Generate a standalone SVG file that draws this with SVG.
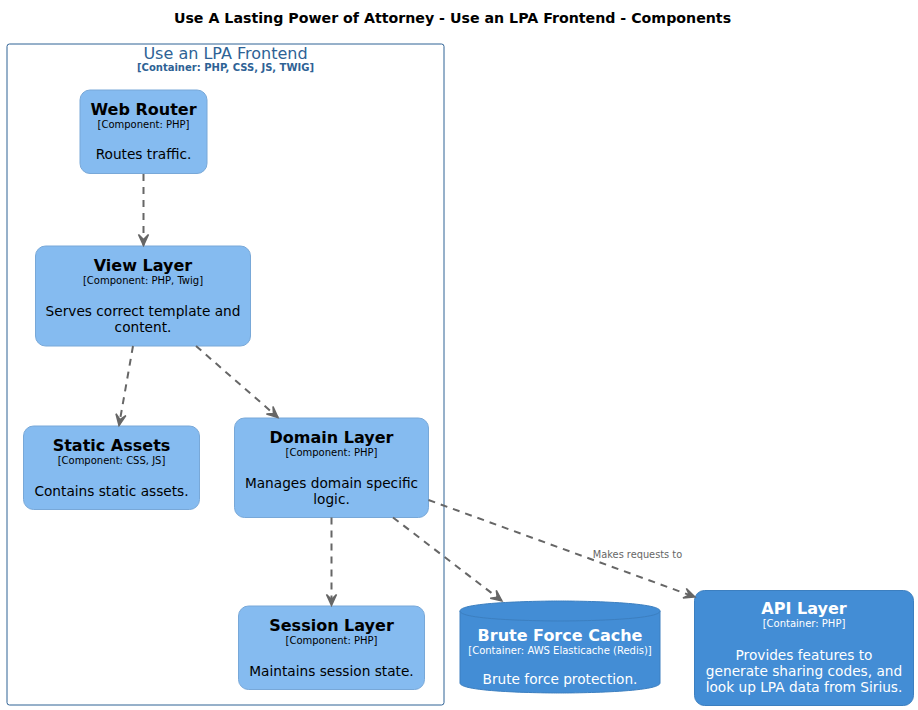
<svg xmlns="http://www.w3.org/2000/svg" width="918" height="710" viewBox="0 0 918 710">
<defs>
<style>
text{font-family:"DejaVu Sans","Liberation Sans",sans-serif;text-anchor:middle}
.t{font-size:16px;font-weight:bold}
.c{font-size:10px}
.d{font-size:13.7px}
.comp rect{fill:#85BBF0;stroke:#78A8D8;stroke-width:1}
.comp text{fill:#000}
.cont rect,.cont path{fill:#438DD5;stroke:#3C7FC0;stroke-width:1}
.cont text{fill:#FFFFFF}
.rel{fill:none;stroke:#666666;stroke-width:2;stroke-dasharray:7,6}
.lbl{font-size:9.8px;fill:#666666}
</style>
<marker id="ah" markerUnits="userSpaceOnUse" orient="auto" markerWidth="30" markerHeight="30" refX="0" refY="0" overflow="visible">
<path d="M0,0 L-11,-5 L-6,0 L-11,5 Z" fill="#666666" stroke="#666666" stroke-width="1.5" stroke-linejoin="miter"/>
</marker>
</defs>
<rect width="918" height="710" fill="#FFFFFF"/>
<text x="452.5" y="23" style="font-size:14.2px;font-weight:bold" fill="#000">Use A Lasting Power of Attorney - Use an LPA Frontend - Components</text>

<g id="boundary-frontend">
<rect x="7" y="44" width="437" height="661" rx="2.5" fill="none" stroke="#2E6295" stroke-width="1"/>
<text x="225.5" y="58.5" style="font-size:16px" fill="#2E6295">Use an LPA Frontend</text>
<text x="225.5" y="71" style="font-size:10px;font-weight:bold" fill="#2E6295">[Container: PHP, CSS, JS, TWIG]</text>
</g>

<g id="web-router" class="comp">
<rect x="80" y="90" width="127" height="83.5" rx="10"/>
<text class="t" x="143.5" y="115">Web Router</text>
<text class="c" x="143.5" y="128">[Component: PHP]</text>
<text class="d" x="143.5" y="159">Routes traffic.</text>
</g>

<g id="view-layer" class="comp">
<rect x="35.5" y="246" width="215" height="100" rx="10"/>
<text class="t" x="143" y="271">View Layer</text>
<text class="c" x="143" y="284">[Component: PHP, Twig]</text>
<text class="d" x="143" y="316">Serves correct template and</text>
<text class="d" x="143" y="332">content.</text>
</g>

<g id="static-assets" class="comp">
<rect x="23.5" y="426" width="176" height="83.5" rx="10"/>
<text class="t" x="111.5" y="451">Static Assets</text>
<text class="c" x="111.5" y="464">[Component: CSS, JS]</text>
<text class="d" x="111.5" y="496">Contains static assets.</text>
</g>

<g id="domain-layer" class="comp">
<rect x="234.5" y="418" width="194" height="99.5" rx="10"/>
<text class="t" x="331.5" y="443">Domain Layer</text>
<text class="c" x="331.5" y="456">[Component: PHP]</text>
<text class="d" x="331.5" y="488">Manages domain specific</text>
<text class="d" x="331.5" y="504">logic.</text>
</g>

<g id="session-layer" class="comp">
<rect x="238.5" y="606" width="186" height="83.5" rx="10"/>
<text class="t" x="331.5" y="631">Session Layer</text>
<text class="c" x="331.5" y="644">[Component: PHP]</text>
<text class="d" x="331.5" y="676">Maintains session state.</text>
</g>

<g id="brute-force-cache" class="cont">
<path d="M460,611 C460,601 560,601 560,601 C560,601 660,601 660,611 L660,683 C660,693 560,693 560,693 C560,693 460,693 460,683 L460,611 Z"/>
<path d="M460,611 C460,621 560,621 560,621 C560,621 660,621 660,611" fill="none"/>
<text class="t" x="560" y="641">Brute Force Cache</text>
<text class="c" x="560" y="654">[Container: AWS Elasticache (Redis)]</text>
<text class="d" x="560" y="684">Brute force protection.</text>
</g>

<g id="api-layer" class="cont">
<rect x="694.5" y="590.5" width="219" height="115" rx="10"/>
<text class="t" x="804" y="614">API Layer</text>
<text class="c" x="804" y="627">[Container: PHP]</text>
<text class="d" x="804" y="660">Provides features to</text>
<text class="d" x="804" y="676">generate sharing codes, and</text>
<text class="d" x="804" y="692">look up LPA data from Sirius.</text>
</g>

<g id="connectors">
<path class="rel" d="M143.5,174 L143.5,245.5" marker-end="url(#ah)"/>
<path class="rel" d="M133,346 L119,425.5" marker-end="url(#ah)"/>
<path class="rel" d="M196,346 L278,417.5" marker-end="url(#ah)"/>
<path class="rel" d="M331.5,517.5 L331.5,605.5" marker-end="url(#ah)"/>
<path class="rel" d="M393,517.5 L502,601" marker-end="url(#ah)"/>
<path class="rel" d="M428.5,500 L695,597" marker-end="url(#ah)"/>
<text class="lbl" x="637.5" y="558">Makes requests to</text>
</g>
</svg>
